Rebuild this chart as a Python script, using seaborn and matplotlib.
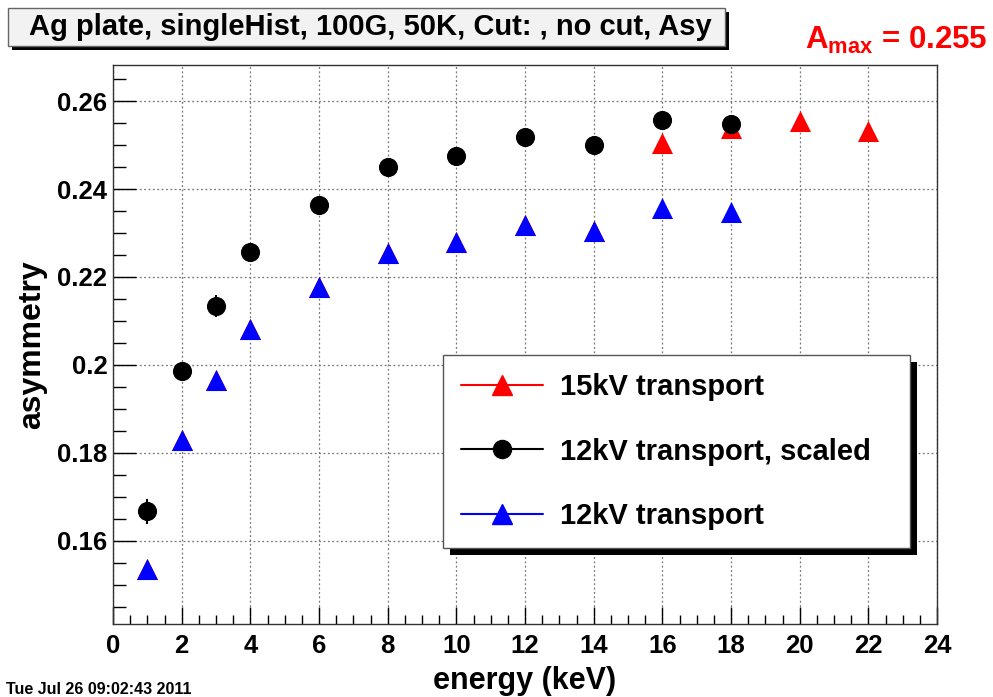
import seaborn as sns
import matplotlib.pyplot as plt
import matplotlib.ticker as mticker
from matplotlib.patches import Rectangle
from matplotlib.lines import Line2D
import pandas as pd
import numpy as np

# energies (keV)
energy_12 = [1, 2, 3, 4, 6, 8, 10, 12, 14, 16, 18]
energy_15 = [1, 2, 3, 4, 6, 8, 10, 12, 14, 16, 18, 20, 22]

# asymmetry values
asym_12_scaled = [0.1667, 0.1986, 0.2134, 0.2257, 0.2364, 0.2451,
                  0.2475, 0.2518, 0.2500, 0.2557, 0.2548]
err_12_scaled = [0.0028, 0.0012, 0.0024, 0.0018, 0.0012, 0.0012,
                 0.0012, 0.0012, 0.0012, 0.0012, 0.0012]
asym_12 = [0.1536, 0.1830, 0.1966, 0.2082, 0.2177, 0.2255,
           0.2280, 0.2318, 0.2305, 0.2357, 0.2348]
asym_15 = [0.1536, 0.1830, 0.1966, 0.2082, 0.2177, 0.2255,
           0.2280, 0.2318, 0.2305, 0.2505, 0.2539, 0.2555, 0.2532]

labels = ["15kV transport", "12kV transport, scaled", "12kV transport"]
title = "Ag plate, singleHist, 100G, 50K, Cut: , no cut, Asy"
amax_text = r"$\mathbf{A_{max}}$ = 0.255"
date_text = "Tue Jul 26 09:02:43 2011"

sns.set_theme(style="ticks")
plt.rcParams["font.family"] = ["Liberation Sans", "DejaVu Sans"]
plt.rcParams["font.weight"] = "bold"
plt.rcParams["text.color"] = "black"
plt.rcParams["axes.labelcolor"] = "black"
plt.rcParams["xtick.color"] = "black"
plt.rcParams["ytick.color"] = "black"
plt.rcParams["mathtext.fontset"] = "custom"
plt.rcParams["mathtext.rm"] = "Liberation Sans:bold"
plt.rcParams["mathtext.bf"] = "Liberation Sans:bold"

fig = plt.figure(figsize=(9.93, 6.97), dpi=100)
ax = fig.add_axes([113 / 993, 1 - 624 / 697, 824 / 993, 559 / 697])

df15 = pd.DataFrame({"energy": energy_15, "asym": asym_15})
df12s = pd.DataFrame({"energy": energy_12, "asym": asym_12_scaled})
df12 = pd.DataFrame({"energy": energy_12, "asym": asym_12})

sns.scatterplot(df15, x="energy", y="asym", marker="^", color="red",
                s=230, linewidth=0, ax=ax, zorder=3)
ax.errorbar(energy_12, asym_12_scaled, yerr=err_12_scaled, fmt="none",
            ecolor="black", elinewidth=1.5, capsize=0, zorder=3)
sns.scatterplot(df12s, x="energy", y="asym", marker="o", color="black",
                s=190, linewidth=0, ax=ax, zorder=4)
sns.scatterplot(df12, x="energy", y="asym", marker="^", color="blue",
                s=230, linewidth=0, ax=ax, zorder=4)

ax.set_xlim(0, 24)
ax.set_ylim(0.1411, 0.2682)
ax.xaxis.set_major_locator(mticker.MultipleLocator(2))
ax.xaxis.set_minor_locator(mticker.MultipleLocator(0.5))
ax.yaxis.set_major_locator(mticker.MultipleLocator(0.02))
ax.yaxis.set_minor_locator(mticker.MultipleLocator(0.005))
ax.yaxis.set_major_formatter(mticker.FuncFormatter(lambda v, p: f"{v:g}"))

ax.tick_params(axis="both", which="both", direction="in", colors="black",
               width=1, labelsize=18.5)
ax.tick_params(axis="x", which="major", length=12, pad=7)
ax.tick_params(axis="x", which="minor", length=6.5)
ax.tick_params(axis="y", which="major", length=16.5, pad=4)
ax.tick_params(axis="y", which="minor", length=9)
for lab in ax.get_xticklabels() + ax.get_yticklabels():
    lab.set_fontweight("bold")

ax.grid(True, which="major", linestyle=(0, (1.5, 2)), color="#777777",
        linewidth=0.9)
for sp in ax.spines.values():
    sp.set_color("#333333")
    sp.set_linewidth(1)

ax.set_xlabel("energy (keV)", fontsize=22, fontweight="bold")
ax.xaxis.set_label_coords(0.5, -0.076)
ax.set_ylabel("asymmetry", fontsize=23, fontweight="bold")
ax.yaxis.set_label_coords(-0.08, 0.5)

handles = [
    Line2D([], [], color="red", marker="^", markersize=15, linewidth=1.5),
    Line2D([], [], color="black", marker="o", markersize=13, linewidth=1.5),
    Line2D([], [], color="blue", marker="^", markersize=15, linewidth=1.5),
]
leg = ax.legend(handles, labels, loc="upper left",
                bbox_to_anchor=(443 / 993, 1 - 355 / 697 - 0.1, 467 / 993, 0.1),
                bbox_transform=fig.transFigure, mode="expand",
                prop={"weight": "bold", "size": 21},
                frameon=True, fancybox=False, borderpad=0.62,
                labelspacing=1.25, handlelength=2.8, handletextpad=0.6,
                borderaxespad=0)
leg.get_frame().set_edgecolor("#555555")
leg.get_frame().set_linewidth(1)
leg.get_frame().set_alpha(1)
leg.set_zorder(6)
for t in leg.get_texts():
    t.set_color("black")

fig.canvas.draw()
bb = leg.get_window_extent().transformed(fig.transFigure.inverted())
ax.add_patch(Rectangle((bb.x0 + 7 / 993, bb.y0 - 7 / 697), bb.width, bb.height,
                       transform=fig.transFigure, facecolor="black",
                       edgecolor="none", zorder=5.5, clip_on=False))

# title box with shadow
fig.patches.append(Rectangle((12 / 993, 1 - 50 / 697), 717 / 993, 38 / 697,
                             transform=fig.transFigure, facecolor="black",
                             edgecolor="none", zorder=1))
fig.patches.append(Rectangle((8 / 993, 1 - 46 / 697), 717 / 993, 38 / 697,
                             transform=fig.transFigure, facecolor="#f2f2f2",
                             edgecolor="#666666", linewidth=1, zorder=2))
fig.text(370 / 993, 1 - 27 / 697, title, fontsize=21, fontweight="bold",
         ha="center", va="center", zorder=3)

fig.text(988 / 993, 1 - 40 / 697, amax_text, fontsize=22.5, color="red",
         fontweight="bold", ha="right", va="center")
fig.text(6 / 993, 1 - 690 / 697, date_text, fontsize=11.5, fontweight="bold",
         ha="left", va="center")

plt.savefig("out.png", dpi=100)
